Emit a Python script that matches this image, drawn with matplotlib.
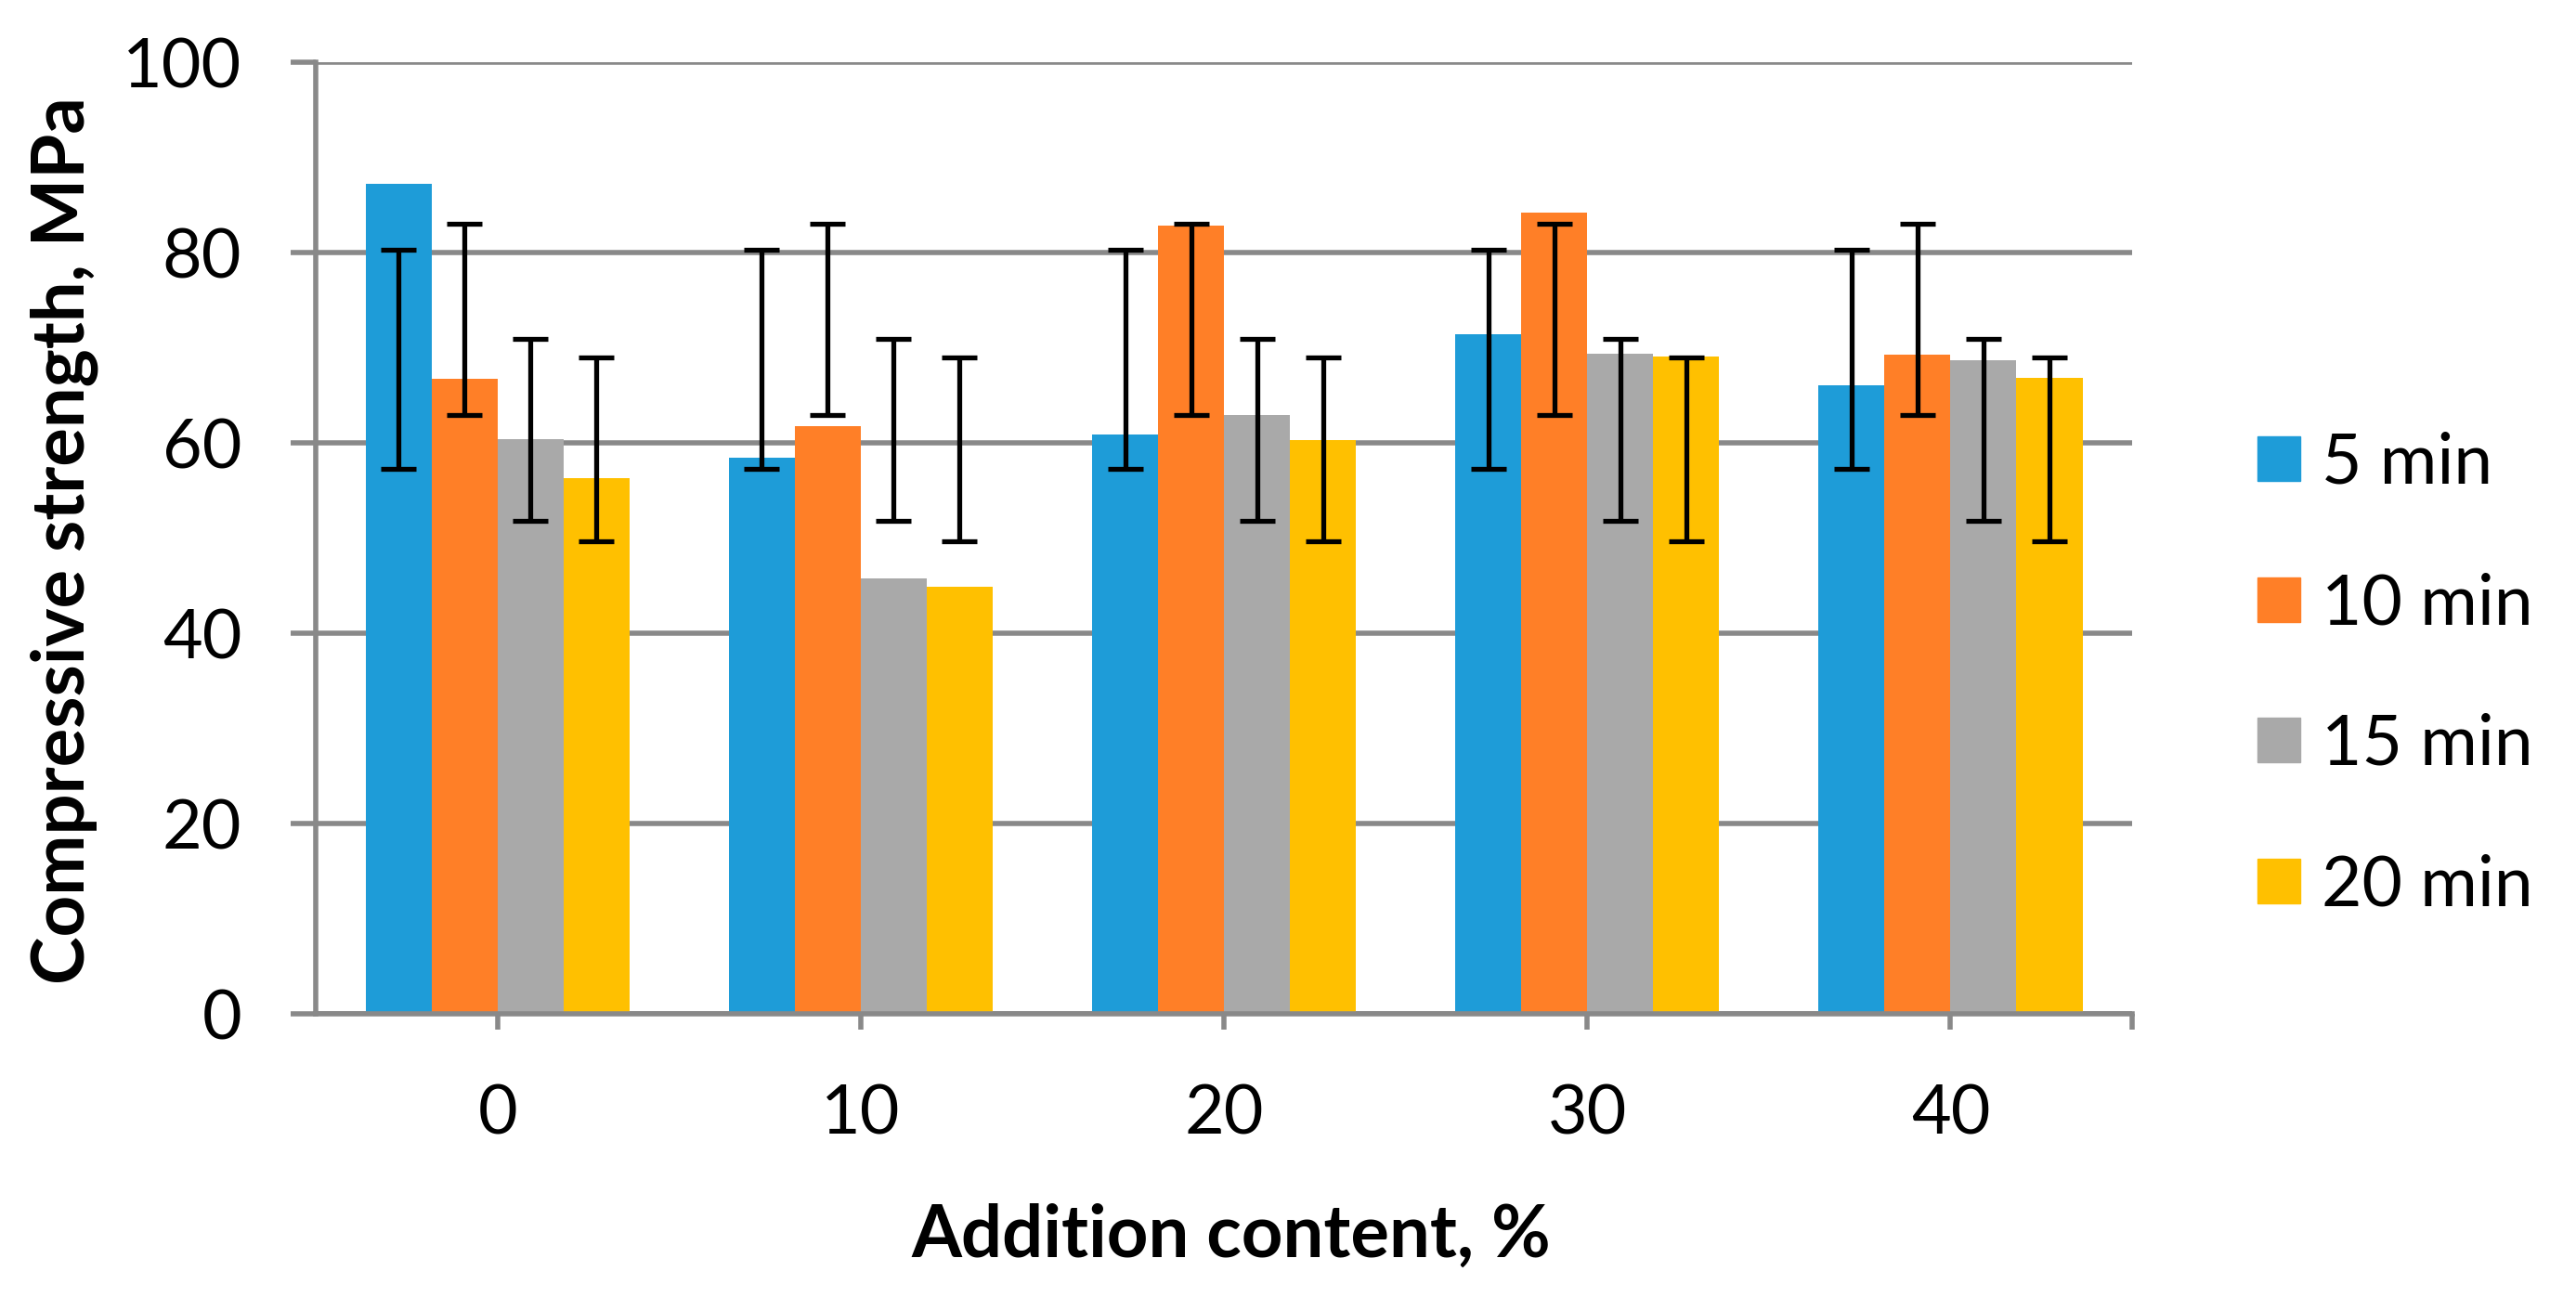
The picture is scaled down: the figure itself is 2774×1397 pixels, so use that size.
import matplotlib
matplotlib.use("Agg")
import matplotlib.pyplot as plt
import numpy as np
from matplotlib.patches import Patch

plt.rcParams["font.family"] = ["Lato", "DejaVu Sans"]

# ── data ────────────────────────────────────────────────────────────────
categories = ["0", "10", "20", "30", "40"]
series = ["5 min", "10 min", "15 min", "20 min"]
strength_5 = [87.2, 58.4, 60.9, 71.4, 66.1]
strength_10 = [66.7, 61.8, 82.8, 84.2, 69.3]
strength_15 = [60.4, 45.8, 62.9, 69.4, 68.7]
strength_20 = [56.3, 44.9, 60.3, 69.1, 66.8]
# error bar ends (same range drawn at every category in the source figure)
err_low = [57.3, 62.9, 51.8, 49.7]
err_high = [80.3, 83.0, 70.9, 69.0]

values = [strength_5, strength_10, strength_15, strength_20]
colors = ["#1E9CD8", "#FF7F27", "#A9A9A9", "#FFC000"]
GRID = "#898989"
W = 0.1816

fig = plt.figure(figsize=(27.74, 13.97), dpi=100)
ax = fig.add_axes([0.1226, 0.2183, 0.7051, 0.7337])

x = np.arange(len(categories))
for i, (vals, c) in enumerate(zip(values, colors)):
    pos = x + (i - 1.5) * W
    ax.bar(pos, vals, W, color=c, zorder=2, label=series[i])
    mid = np.full(len(x), (err_low[i] + err_high[i]) / 2)
    half = np.full(len(x), (err_high[i] - err_low[i]) / 2)
    ax.errorbar(pos, mid, yerr=half, fmt="none", ecolor="black",
                elinewidth=3.8, capsize=13.5, capthick=3.8, zorder=3)

ax.set_xlim(-0.5, 4.5)
ax.set_ylim(0, 100)
ax.set_yticks(np.arange(0, 101, 20))
ax.set_xticks(x)
ax.set_xticklabels(categories)
ax.grid(axis="y", color=GRID, lw=4.0, zorder=0)
ax.set_axisbelow(True)

for s in ["top", "right"]:
    ax.spines[s].set_visible(False)
for s in ["left", "bottom"]:
    ax.spines[s].set_color(GRID)
    ax.spines[s].set_linewidth(4.0)

ax.tick_params(axis="y", length=19.5, width=4.0, color=GRID, pad=38,
               labelsize=53)
ax.tick_params(axis="x", length=12.5, width=4.0, color=GRID, pad=42,
               labelsize=53)
# end tick at the right edge of the category axis
ax.plot([4.5, 4.5], [0, -0.0165], transform=ax.get_xaxis_transform(),
        color=GRID, lw=4.0, clip_on=False, solid_capstyle="butt")

fig.text(0.025, 0.583, "Compressive strength, MPa", rotation=90,
         ha="center", va="center", fontsize=56, fontweight="bold")
fig.text(0.478, 0.047, "Addition content, %", ha="center", va="center",
         fontsize=56, fontweight="bold")

handles = [Patch(color=c, label=s) for c, s in zip(colors, series)]
fig.legend(handles=handles, loc="center left", bbox_to_anchor=(0.8765, 0.48),
           frameon=False, fontsize=54, handlelength=0.61, handleheight=0.61,
           handletextpad=0.31, labelspacing=1.1, borderpad=0, borderaxespad=0)

fig.savefig("out.png", dpi=100)
